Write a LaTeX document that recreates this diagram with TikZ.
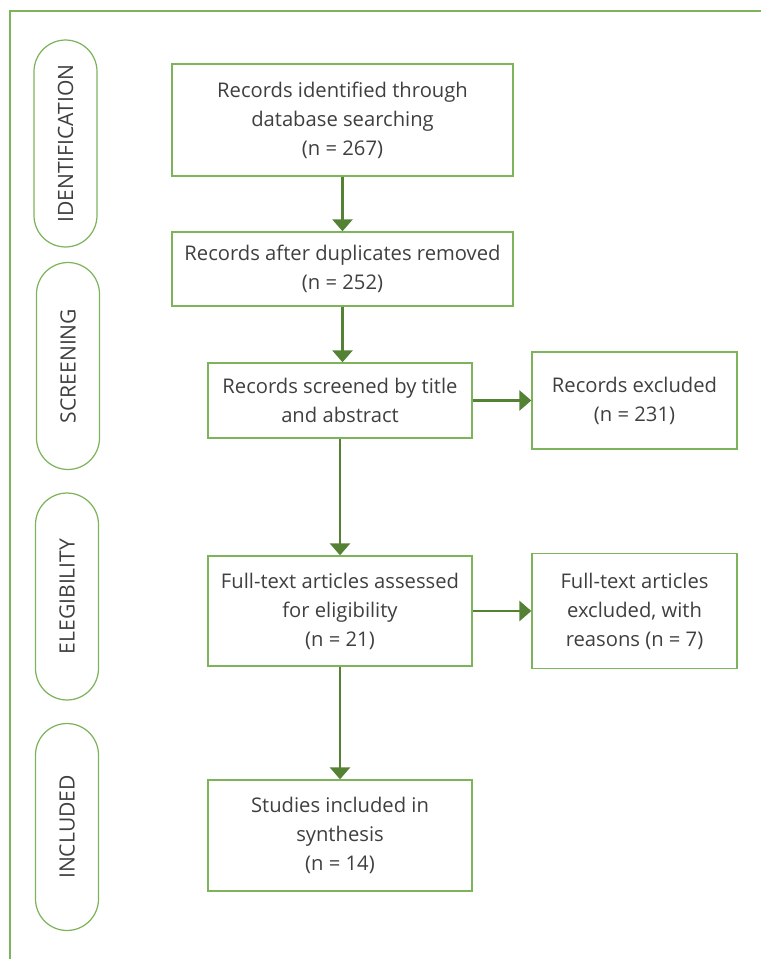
\documentclass[tikz,border=0pt]{standalone}
\usepackage{fontspec}
\setmainfont{Open Sans}
\usetikzlibrary{arrows.meta}

\definecolor{cadre}{HTML}{7DB35A}
\definecolor{fleche}{HTML}{548235}
\definecolor{texte}{HTML}{3F3F3F}

\tikzset{
  boite/.style={draw=cadre, line width=0.8pt, text=texte, align=center, inner sep=0pt,
    font=\fontsize{11.5}{16.5}\selectfont},
  etape/.style={draw=cadre, line width=0.7pt, rounded corners=0.63cm, rotate=90,
    minimum width=4.14cm, minimum height=1.26cm, text=texte, inner sep=0pt,
    font=\fontsize{12}{14}\selectfont},
  lien/.style={draw=fleche, line width=1.7pt, -{Triangle[width=0.4cm,length=0.24cm]}}
}

\begin{document}
\begin{tikzpicture}[x=0.02cm, y=-0.02cm]
  \useasboundingbox (0,0) rectangle (761,959);

  % Cadre
  \draw[cadre, line width=0.9pt] (10,959) -- (10,11) -- (761,11);

  % Etapes
  \node[etape] (ident) at (65.5,143.5) {IDENTIFICATION};
  \node[etape] (screen) at (68,366) {SCREENING};
  \node[etape] (elig) at (67,596.5) {ELEGIBILITY};
  \node[etape] (incl) at (67,827) {INCLUDED};

  % Boites
  \node[boite, minimum width=6.82cm, minimum height=2.24cm] (ident1) at (342.5,120)
    {Records identified through\\database searching\\(n = 267)};
  \node[boite, minimum width=6.82cm, minimum height=1.48cm] (dup) at (342.5,269)
    {Records after duplicates removed\\(n = 252)};
  \node[boite, minimum width=5.28cm, minimum height=1.5cm] (titre) at (340,400.5)
    {Records screened by title\\and abstract};
  \node[boite, minimum width=4.1cm, minimum height=1.94cm] (excl) at (634.5,400.5)
    {Records excluded\\(n = 231)};
  \node[boite, minimum width=5.28cm, minimum height=2.2cm] (texte) at (340,611)
    {Full-text articles assessed\\for eligibility\\(n = 21)};
  \node[boite, minimum width=4.1cm, minimum height=2.3cm] (exclt) at (634.5,611)
    {Full-text articles\\excluded, with\\reasons (n = 7)};
  \node[boite, minimum width=5.28cm, minimum height=2.22cm] (synth) at (340,835.5)
    {Studies included in\\synthesis\\(n = 14)};

  % Fleches
  \draw[lien] (ident1) -- (dup);
  \draw[lien] (dup.south) -- (dup.south |- titre.north);
  \draw[lien] (titre) -- (texte);
  \draw[lien] (texte) -- (synth);
  \draw[lien] (titre) -- (excl);
  \draw[lien] (texte) -- (exclt);
\end{tikzpicture}
\end{document}
